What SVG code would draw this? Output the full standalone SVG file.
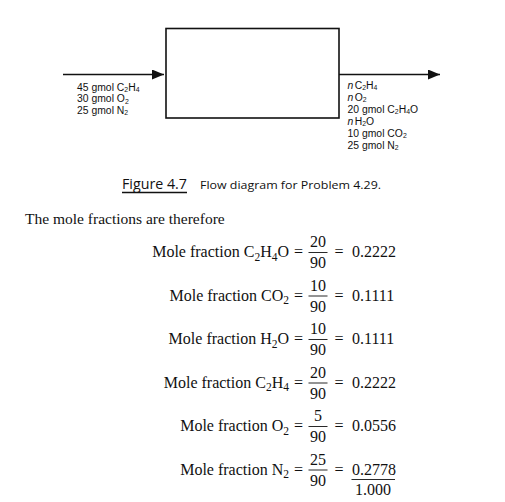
<svg xmlns="http://www.w3.org/2000/svg" width="505" height="502" viewBox="0 0 505 502">
<defs>
<style>
.lbl{font-family:"Liberation Sans",Arial,sans-serif;font-size:11.3px;fill:#111}
.ls{font-size:7.5px}
.eq{font-family:"Liberation Serif","Times New Roman",serif;font-size:16px;fill:#111}
.s{font-size:11.5px}
.body{font-family:"Liberation Serif","Times New Roman",serif;font-size:15.5px;fill:#111}
.cap{font-family:"Open Sans","Noto Sans",sans-serif;fill:#111}
.bar{stroke:#111;stroke-width:0.9}
</style>
<marker id="arrow" viewBox="0 0 12 10" refX="12" refY="5" markerWidth="12" markerHeight="10" markerUnits="userSpaceOnUse" orient="auto">
<path d="M0,0 L12,5 L0,10 Z" fill="#111"/>
</marker>
</defs>
<rect width="505" height="502" fill="#fff"/>

<g id="process-box">
<rect x="166" y="28.5" width="173" height="89.5" fill="none" stroke="#111" stroke-width="1.6"/>
</g>

<g id="connectors">
<line x1="63" y1="74.5" x2="164" y2="74.5" stroke="#111" stroke-width="1.6" marker-end="url(#arrow)"/>
<line x1="339" y1="74.5" x2="440" y2="74.5" stroke="#111" stroke-width="1.6" marker-end="url(#arrow)"/>
</g>

<g id="inlet-label" transform="translate(77,0) scale(0.92,1)">
<text class="lbl" x="0" y="91">45 gmol C<tspan class="ls" dy="1.5">2</tspan><tspan dy="-1.5">H</tspan><tspan class="ls" dy="1.5">4</tspan></text>
<text class="lbl" x="0" y="102.5">30 gmol O<tspan class="ls" dy="1.5">2</tspan></text>
<text class="lbl" x="0" y="114">25 gmol N<tspan class="ls" dy="1.5">2</tspan></text>
</g>

<g id="outlet-label" transform="translate(347.5,0) scale(0.92,1)">
<text class="lbl" x="0" y="89"><tspan font-style="italic">n</tspan><tspan dx="1.5">C</tspan><tspan class="ls" dy="1.5">2</tspan><tspan dy="-1.5">H</tspan><tspan class="ls" dy="1.5">4</tspan></text>
<text class="lbl" x="0" y="101"><tspan font-style="italic">n</tspan><tspan dx="1.5">O</tspan><tspan class="ls" dy="1.5">2</tspan></text>
<text class="lbl" x="0" y="113">20 gmol C<tspan class="ls" dy="1.5">2</tspan><tspan dy="-1.5">H</tspan><tspan class="ls" dy="1.5">4</tspan><tspan dy="-1.5">O</tspan></text>
<text class="lbl" x="0" y="125"><tspan font-style="italic">n</tspan><tspan dx="1.5">H</tspan><tspan class="ls" dy="1.5">2</tspan><tspan dy="-1.5">O</tspan></text>
<text class="lbl" x="0" y="137">10 gmol CO<tspan class="ls" dy="1.5">2</tspan></text>
<text class="lbl" x="0" y="149">25 gmol N<tspan class="ls" dy="1.5">2</tspan></text>
</g>

<g id="caption">
<text class="cap" x="122" y="189" font-size="14" textLength="65" lengthAdjust="spacingAndGlyphs">Figure 4.7</text>
<line x1="122" y1="192.5" x2="187" y2="192.5" stroke="#111" stroke-width="1.5"/>
<text class="cap" x="200" y="189" font-size="11" textLength="181" lengthAdjust="spacingAndGlyphs">Flow diagram for Problem 4.29.</text>
</g>

<g id="intro">
<text class="body" x="25" y="224">The mole fractions are therefore</text>
</g>

<g id="eq-c2h4o">
<text class="eq" x="289" y="257" text-anchor="end">Mole fraction C<tspan class="s" dy="3.5">2</tspan><tspan dy="-3.5">H</tspan><tspan class="s" dy="3.5">4</tspan><tspan dy="-3.5">O</tspan></text>
<text class="eq" x="298.5" y="257" text-anchor="middle">=</text>
<text class="eq" x="318" y="247" text-anchor="middle">20</text>
<line class="bar" x1="308.5" y1="252.5" x2="327.5" y2="252.5"/>
<text class="eq" x="318" y="268" text-anchor="middle">90</text>
<text class="eq" x="339" y="257" text-anchor="middle">=</text>
<text class="eq" x="352" y="257">0.2222</text>
</g>

<g id="eq-co2">
<text class="eq" x="289" y="300.5" text-anchor="end">Mole fraction CO<tspan class="s" dy="3.5">2</tspan></text>
<text class="eq" x="298.5" y="300.5" text-anchor="middle">=</text>
<text class="eq" x="318" y="290.5" text-anchor="middle">10</text>
<line class="bar" x1="308.5" y1="296" x2="327.5" y2="296"/>
<text class="eq" x="318" y="311.5" text-anchor="middle">90</text>
<text class="eq" x="339" y="300.5" text-anchor="middle">=</text>
<text class="eq" x="352" y="300.5">0.1111</text>
</g>

<g id="eq-h2o">
<text class="eq" x="289" y="344" text-anchor="end">Mole fraction H<tspan class="s" dy="3.5">2</tspan><tspan dy="-3.5">O</tspan></text>
<text class="eq" x="298.5" y="344" text-anchor="middle">=</text>
<text class="eq" x="318" y="334" text-anchor="middle">10</text>
<line class="bar" x1="308.5" y1="339.5" x2="327.5" y2="339.5"/>
<text class="eq" x="318" y="355" text-anchor="middle">90</text>
<text class="eq" x="339" y="344" text-anchor="middle">=</text>
<text class="eq" x="352" y="344">0.1111</text>
</g>

<g id="eq-c2h4">
<text class="eq" x="289" y="387.5" text-anchor="end">Mole fraction C<tspan class="s" dy="3.5">2</tspan><tspan dy="-3.5">H</tspan><tspan class="s" dy="3.5">4</tspan></text>
<text class="eq" x="298.5" y="387.5" text-anchor="middle">=</text>
<text class="eq" x="318" y="377.5" text-anchor="middle">20</text>
<line class="bar" x1="308.5" y1="383" x2="327.5" y2="383"/>
<text class="eq" x="318" y="398.5" text-anchor="middle">90</text>
<text class="eq" x="339" y="387.5" text-anchor="middle">=</text>
<text class="eq" x="352" y="387.5">0.2222</text>
</g>

<g id="eq-o2">
<text class="eq" x="289" y="431" text-anchor="end">Mole fraction O<tspan class="s" dy="3.5">2</tspan></text>
<text class="eq" x="298.5" y="431" text-anchor="middle">=</text>
<text class="eq" x="318" y="421" text-anchor="middle">5</text>
<line class="bar" x1="308.5" y1="426.5" x2="327.5" y2="426.5"/>
<text class="eq" x="318" y="442" text-anchor="middle">90</text>
<text class="eq" x="339" y="431" text-anchor="middle">=</text>
<text class="eq" x="352" y="431">0.0556</text>
</g>

<g id="eq-n2">
<text class="eq" x="289" y="474.5" text-anchor="end">Mole fraction N<tspan class="s" dy="3.5">2</tspan></text>
<text class="eq" x="298.5" y="474.5" text-anchor="middle">=</text>
<text class="eq" x="318" y="464.5" text-anchor="middle">25</text>
<line class="bar" x1="308.5" y1="470" x2="327.5" y2="470"/>
<text class="eq" x="318" y="485.5" text-anchor="middle">90</text>
<text class="eq" x="339" y="474.5" text-anchor="middle">=</text>
<text class="eq" x="352" y="474.5">0.2778</text>
<line class="bar" x1="351.5" y1="479.5" x2="395" y2="479.5"/>
<text class="eq" x="373" y="494.5" text-anchor="middle">1.000</text>
</g>
</svg>
